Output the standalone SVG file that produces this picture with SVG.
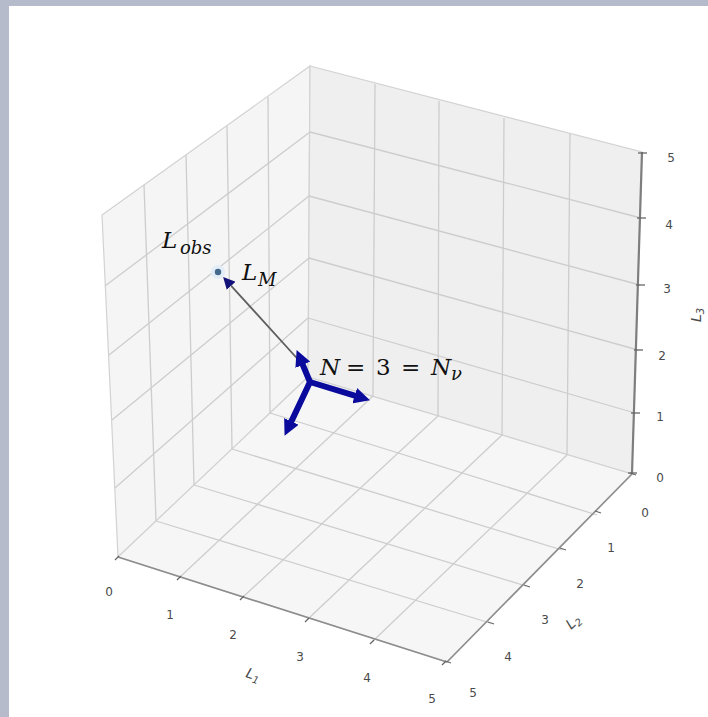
<svg xmlns="http://www.w3.org/2000/svg" width="708" height="717" viewBox="0 0 708 717">
<style>
.grid{stroke:#cdcdcd;stroke-width:1.3;fill:none}
.pane{stroke:#d2d2d2;stroke-width:1.2}
.axis{stroke:#8e8e8e;stroke-width:1.6;fill:none}
.tick{stroke:#666;stroke-width:1.3}
.tl{font-family:"DejaVu Sans",sans-serif;font-size:12px;fill:#4a4a4a;text-anchor:middle}
.al{font-family:"DejaVu Sans",sans-serif;font-size:14px;fill:#4a4a4a;font-style:italic}
.m{font-family:"DejaVu Serif",serif;font-style:italic;font-size:23px;fill:#111}
.ms{font-family:"DejaVu Serif",serif;font-style:italic;font-size:18px;fill:#111}
.mr{font-family:"DejaVu Serif",serif;font-size:23px;fill:#111}
.blue{stroke:#0a0a9c;stroke-width:6;fill:none;stroke-linecap:round}
.gray{stroke:#5e5e5e;stroke-width:1.8;fill:none}
</style>
<defs>
<marker id="headBlue" viewBox="0 -8 16 16" markerWidth="16" markerHeight="16" refX="0" refY="0" markerUnits="userSpaceOnUse" orient="auto">
<path d="M0,-8 L16,0 L0,8 Z" fill="#0a0a9c"/>
</marker>
<marker id="headNavy" viewBox="0 -6 12 12" markerWidth="12" markerHeight="12" refX="0" refY="0" markerUnits="userSpaceOnUse" orient="auto">
<path d="M0,-6 L12,0 L0,6 Z" fill="#12127a"/>
</marker>
</defs>
<g id="background">
<rect x="0" y="0" width="708" height="717" fill="#b6bbcb"/>
<rect x="9" y="6" width="699" height="711" fill="#ffffff"/>
</g>
<g id="panes">
<polygon class="pane" points="102,215 310,66 308,377 118,557" fill="#f5f5f5"/>
<polygon class="pane" points="310,66 642,152 632,474 308,377" fill="#efefef"/>
<polygon class="pane" points="118,557 308,377 632,474 447,662" fill="#f6f6f6"/>
</g>
<g id="grid">
<line class="grid" x1="268" y1="97" x2="270" y2="413"/>
<line class="grid" x1="227" y1="126" x2="232" y2="449"/>
<line class="grid" x1="186" y1="155" x2="194" y2="485"/>
<line class="grid" x1="144" y1="185" x2="156" y2="521"/>
<line class="grid" x1="115" y1="488" x2="308" y2="318"/>
<line class="grid" x1="112" y1="420" x2="309" y2="258"/>
<line class="grid" x1="109" y1="355" x2="309" y2="196"/>
<line class="grid" x1="105" y1="286" x2="310" y2="132"/>
<line class="grid" x1="375" y1="84" x2="373" y2="396"/>
<line class="grid" x1="439" y1="101" x2="438" y2="416"/>
<line class="grid" x1="504" y1="118" x2="502" y2="435"/>
<line class="grid" x1="570" y1="134" x2="567" y2="455"/>
<line class="grid" x1="308" y1="318" x2="635" y2="413"/>
<line class="grid" x1="309" y1="258" x2="638" y2="350"/>
<line class="grid" x1="309" y1="196" x2="640" y2="285"/>
<line class="grid" x1="310" y1="132" x2="641" y2="218"/>
<line class="grid" x1="180" y1="577" x2="373" y2="396"/>
<line class="grid" x1="243" y1="597" x2="438" y2="416"/>
<line class="grid" x1="308" y1="619" x2="502" y2="435"/>
<line class="grid" x1="373" y1="641" x2="567" y2="455"/>
<line class="grid" x1="270" y1="413" x2="597" y2="515"/>
<line class="grid" x1="232" y1="449" x2="562" y2="550"/>
<line class="grid" x1="194" y1="485" x2="526" y2="586"/>
<line class="grid" x1="156" y1="521" x2="490" y2="623"/>
</g>
<g id="axes">
<line class="axis" x1="118" y1="557" x2="447" y2="662"/>
<line class="axis" x1="632" y1="474" x2="447" y2="662"/>
<line class="axis" x1="632" y1="474" x2="642" y2="152" style="stroke-width:2.2;stroke:#7e7e7e"/>
<g class="tick">
<line x1="119" y1="556" x2="115" y2="560"/>
<line x1="181" y1="576" x2="177" y2="580"/>
<line x1="244" y1="596" x2="240" y2="600"/>
<line x1="309" y1="618" x2="305" y2="622"/>
<line x1="374" y1="640" x2="370" y2="644"/>
<line x1="446" y1="661" x2="442" y2="665"/>
<line x1="630" y1="473" x2="636" y2="475"/>
<line x1="595" y1="511" x2="601" y2="513"/>
<line x1="560" y1="548" x2="566" y2="550"/>
<line x1="524" y1="585" x2="530" y2="587"/>
<line x1="488" y1="622" x2="494" y2="624"/>
<line x1="445" y1="661" x2="451" y2="663"/>
<line x1="628" y1="473" x2="637" y2="473"/>
<line x1="631" y1="413" x2="640" y2="413"/>
<line x1="634" y1="350" x2="643" y2="350"/>
<line x1="636" y1="285" x2="645" y2="285"/>
<line x1="637" y1="218" x2="646" y2="218"/>
<line x1="638" y1="153" x2="647" y2="153"/>
</g>
<text class="tl" x="109" y="596">0</text>
<text class="tl" x="170" y="619">1</text>
<text class="tl" x="233" y="639">2</text>
<text class="tl" x="300" y="661">3</text>
<text class="tl" x="367" y="682">4</text>
<text class="tl" x="432" y="703">5</text>
<text class="tl" x="645" y="517">0</text>
<text class="tl" x="611" y="552">1</text>
<text class="tl" x="580" y="588">2</text>
<text class="tl" x="545" y="624">3</text>
<text class="tl" x="508" y="661">4</text>
<text class="tl" x="473" y="697">5</text>
<text class="tl" x="671" y="162">5</text>
<text class="tl" x="669" y="229">4</text>
<text class="tl" x="667" y="293">3</text>
<text class="tl" x="662" y="360">2</text>
<text class="tl" x="660" y="421">1</text>
<text class="tl" x="660" y="482">0</text>
<text class="al" transform="translate(245,677) rotate(18)">L<tspan font-size="10" dy="3">1</tspan></text>
<text class="al" transform="translate(571,630) rotate(-42)">L<tspan font-size="10" dy="3">2</tspan></text>
<text class="al" transform="translate(701,322) rotate(-90)">L<tspan font-size="10" dy="3">3</tspan></text>
</g>
<g id="connectors">
<line class="gray" x1="304" y1="366" x2="231.2" y2="285.8" marker-end="url(#headNavy)"/>
<line class="blue" x1="310" y1="382" x2="302.8" y2="364.8" marker-end="url(#headBlue)"/>
<line class="blue" x1="310" y1="382" x2="354.7" y2="395.6" marker-end="url(#headBlue)"/>
<line class="blue" x1="310" y1="382" x2="291.4" y2="421.4" marker-end="url(#headBlue)"/>
</g>
<g id="node-Lobs">
<circle cx="218" cy="272" r="7" fill="#e2edf8"/>
<circle cx="218" cy="272" r="3.2" fill="#44698a"/>
<text class="m" x="162" y="248">L</text>
<text class="ms" x="180" y="254">obs</text>
</g>
<g id="node-LM">
<text class="m" x="242" y="280">L</text>
<text class="ms" x="258" y="286">M</text>
</g>
<g id="node-N">
<text class="m" x="320" y="375">N</text>
<text class="mr" x="346" y="375">=</text>
<text class="mr" x="376" y="375">3</text>
<text class="mr" x="401" y="375">=</text>
<text class="m" x="431" y="375">N</text>
<text class="ms" x="451" y="380">ν</text>
</g>
</svg>
